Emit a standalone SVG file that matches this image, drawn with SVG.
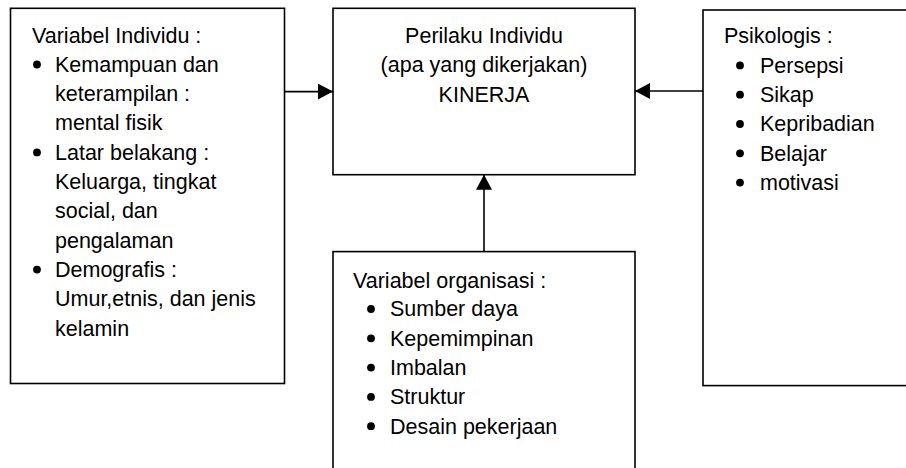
<svg xmlns="http://www.w3.org/2000/svg" width="906" height="468" viewBox="0 0 906 468">
<style>
.box{fill:#fff;stroke:#000;stroke-width:1.6}
.t{font-family:"Liberation Sans",Arial,sans-serif;font-size:21.5px;fill:#000}
.c{text-anchor:middle}
.conn{stroke:#000;stroke-width:1.6;fill:none}
.b{fill:#000}
</style>
<defs>
<marker id="ah" viewBox="0 0 15 16" refX="15" refY="8" markerWidth="15" markerHeight="16" markerUnits="userSpaceOnUse" orient="auto">
<path d="M0,0 L15,8 L0,16 Z" fill="#000"/>
</marker>
</defs>
<rect width="906" height="468" fill="#fff"/>
<g id="individu">
<rect class="box" x="10.5" y="8.3" width="274" height="375.2"/>
<text class="t" x="32" y="42.5">Variabel Individu :</text>
<circle class="b" cx="37" cy="64.5" r="3.9"/>
<text class="t" x="55" y="71.8">Kemampuan dan</text>
<text class="t" x="55" y="101.1">keterampilan :</text>
<text class="t" x="55" y="130.4">mental fisik</text>
<circle class="b" cx="37" cy="152.4" r="3.9"/>
<text class="t" x="55" y="159.7">Latar belakang :</text>
<text class="t" x="55" y="189">Keluarga, tingkat</text>
<text class="t" x="55" y="218.3">social, dan</text>
<text class="t" x="55" y="247.6">pengalaman</text>
<circle class="b" cx="37" cy="269.6" r="3.9"/>
<text class="t" x="55" y="276.9">Demografis :</text>
<text class="t" x="55" y="306.2">Umur,etnis, dan jenis</text>
<text class="t" x="55" y="335.5">kelamin</text>
</g>
<g id="perilaku">
<rect class="box" x="333" y="8.3" width="302" height="166.4"/>
<text class="t c" x="484" y="42.7">Perilaku Individu</text>
<text class="t c" x="484" y="72.2">(apa yang dikerjakan)</text>
<text class="t c" x="484" y="101.7">KINERJA</text>
</g>
<g id="psikologis">
<rect class="box" x="703" y="10" width="230" height="375.6"/>
<text class="t" x="724" y="43.3">Psikologis :</text>
<circle class="b" cx="740" cy="65.4" r="3.9"/>
<text class="t" x="760" y="72.7">Persepsi</text>
<circle class="b" cx="740" cy="94.7" r="3.9"/>
<text class="t" x="760" y="102">Sikap</text>
<circle class="b" cx="740" cy="124" r="3.9"/>
<text class="t" x="760" y="131.3">Kepribadian</text>
<circle class="b" cx="740" cy="153.3" r="3.9"/>
<text class="t" x="760" y="160.6">Belajar</text>
<circle class="b" cx="740" cy="182.6" r="3.9"/>
<text class="t" x="760" y="189.9">motivasi</text>
</g>
<g id="organisasi">
<rect class="box" x="333" y="251.6" width="302" height="230"/>
<text class="t" x="353" y="288">Variabel organisasi :</text>
<circle class="b" cx="371" cy="309" r="3.9"/>
<text class="t" x="390" y="316.3">Sumber daya</text>
<circle class="b" cx="371" cy="338.3" r="3.9"/>
<text class="t" x="390" y="345.6">Kepemimpinan</text>
<circle class="b" cx="371" cy="367.6" r="3.9"/>
<text class="t" x="390" y="374.9">Imbalan</text>
<circle class="b" cx="371" cy="396.9" r="3.9"/>
<text class="t" x="390" y="404.2">Struktur</text>
<circle class="b" cx="371" cy="426.2" r="3.9"/>
<text class="t" x="390" y="433.5">Desain pekerjaan</text>
</g>
<g id="connectors">
<line class="conn" x1="284.5" y1="91.6" x2="333" y2="91.6" marker-end="url(#ah)"/>
<line class="conn" x1="703" y1="91" x2="635" y2="91" marker-end="url(#ah)"/>
<line class="conn" x1="484" y1="251.6" x2="484" y2="174.7" marker-end="url(#ah)"/>
</g>
</svg>
